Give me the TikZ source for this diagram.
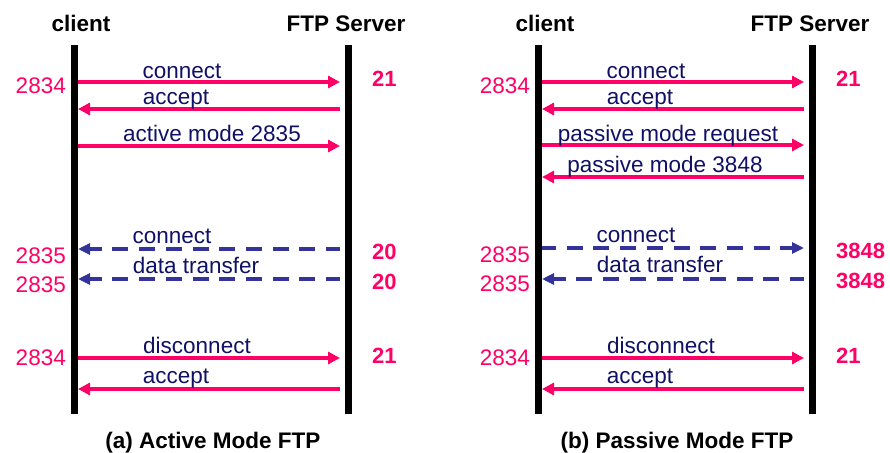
\documentclass[tikz,border=0pt]{standalone}
\usepackage{fontspec}
\setmainfont{Liberation Sans}
\usetikzlibrary{arrows.meta}

\definecolor{msgpink}{RGB}{255,0,102}
\definecolor{labelnavy}{RGB}{16,16,102}
\definecolor{dashblue}{RGB}{51,51,153}

\tikzset{
  lifeline/.style={line width=7pt, black},
  msg/.style={line width=4pt, msgpink, -{Triangle[length=12pt,width=12pt]}},
  datamsg/.style={line width=4pt, dashblue, dash pattern=on 16pt off 10.7pt, dash phase=2pt,
                  -{Triangle[length=12pt,width=11pt]}},
  lbl/.style={anchor=base, inner sep=0pt, text=labelnavy, font=\fontsize{22.5}{26}\selectfont},
  cport/.style={anchor=base east, inner sep=0pt, text=msgpink, font=\fontsize{22.5}{26}\selectfont},
  sport/.style={anchor=base west, inner sep=0pt, text=msgpink, font=\fontsize{22}{26}\selectfont\bfseries},
  head/.style={anchor=base, inner sep=0pt, text=black, font=\fontsize{22.5}{26}\selectfont\bfseries},
}

\begin{document}
\begin{tikzpicture}[x=1pt, y=-1pt]
\useasboundingbox (0,0) rectangle (890,452);

% ---------------- (a) Active mode ----------------
\node[head] (ahc) at (81,32) {client};
\node[head] (ahs) at (346,32) {FTP Server};
\coordinate (acTop) at (74,45);  \coordinate (acBot) at (74,414);
\coordinate (asTop) at (348,45); \coordinate (asBot) at (348,414);
\draw[lifeline] (acTop) -- (acBot);
\draw[lifeline] (asTop) -- (asBot);

\foreach \n/\y in {1/82, 2/109, 3/146, 4/249, 5/279, 6/358, 7/389} {
  \coordinate (ac\n) at (78,\y);
  \coordinate (as\n) at (340,\y);
}
\draw[msg] (ac1) -- (as1);
\draw[msg] (as2) -- (ac2);
\draw[msg] (ac3) -- (as3);
\draw[datamsg] (as4) -- (ac4);
\draw[datamsg] (as5) -- (ac5);
\draw[msg] (ac6) -- (as6);
\draw[msg] (as7) -- (ac7);

\node[lbl] (al1) at (182,78)  {connect};
\node[lbl] (al2) at (176,104) {accept};
\node[lbl] (al3) at (212,141) {active mode 2835};
\node[lbl] (al4) at (172,243) {connect};
\node[lbl] (al5) at (196,273) {data transfer};
\node[lbl] (al6) at (197,353) {disconnect};
\node[lbl] (al7) at (176,383) {accept};

\node[cport] (acp1) at (66,93)  {2834};
\node[cport] (acp2) at (66,263) {2835};
\node[cport] (acp3) at (66,292) {2835};
\node[cport] (acp4) at (66,365) {2834};
\node[sport] (asp1) at (372,86)  {21};
\node[sport] (asp2) at (372,259) {20};
\node[sport] (asp3) at (372,289) {20};
\node[sport] (asp4) at (372,363) {21};

\node[head] (acap) at (213,448) {(a) Active Mode FTP};

% ---------------- (b) Passive mode ----------------
\node[head] (bhc) at (545,32) {client};
\node[head] (bhs) at (810,32) {FTP Server};
\coordinate (bcTop) at (538,45); \coordinate (bcBot) at (538,414);
\coordinate (bsTop) at (812,45); \coordinate (bsBot) at (812,414);
\draw[lifeline] (bcTop) -- (bcBot);
\draw[lifeline] (bsTop) -- (bsBot);

\foreach \n/\y in {1/82, 2/109, 3/145, 4/177, 5/248, 6/279, 7/358, 8/389} {
  \coordinate (bc\n) at (542,\y);
  \coordinate (bs\n) at (804,\y);
}
\draw[msg] (bc1) -- (bs1);
\draw[msg] (bs2) -- (bc2);
\draw[msg] (bc3) -- (bs3);
\draw[msg] (bs4) -- (bc4);
\draw[datamsg] (bc5) -- (bs5);
\draw[datamsg] (bs6) -- (bc6);
\draw[msg] (bc7) -- (bs7);
\draw[msg] (bs8) -- (bc8);

\node[lbl] (bl1) at (646,78)  {connect};
\node[lbl] (bl2) at (640,104) {accept};
\node[lbl] (bl3) at (668,141) {passive mode request};
\node[lbl] (bl4) at (665,172) {passive mode 3848};
\node[lbl] (bl5) at (636,242) {connect};
\node[lbl] (bl6) at (660,272) {data transfer};
\node[lbl] (bl7) at (661,353) {disconnect};
\node[lbl] (bl8) at (640,383) {accept};

\node[cport] (bcp1) at (530,93)  {2834};
\node[cport] (bcp2) at (530,262) {2835};
\node[cport] (bcp3) at (530,291) {2835};
\node[cport] (bcp4) at (530,365) {2834};
\node[sport] (bsp1) at (836,86)  {21};
\node[sport] (bsp2) at (836,258) {3848};
\node[sport] (bsp3) at (836,288) {3848};
\node[sport] (bsp4) at (836,363) {21};

\node[head] (bcap) at (677,448) {(b) Passive Mode FTP};
\end{tikzpicture}
\end{document}
